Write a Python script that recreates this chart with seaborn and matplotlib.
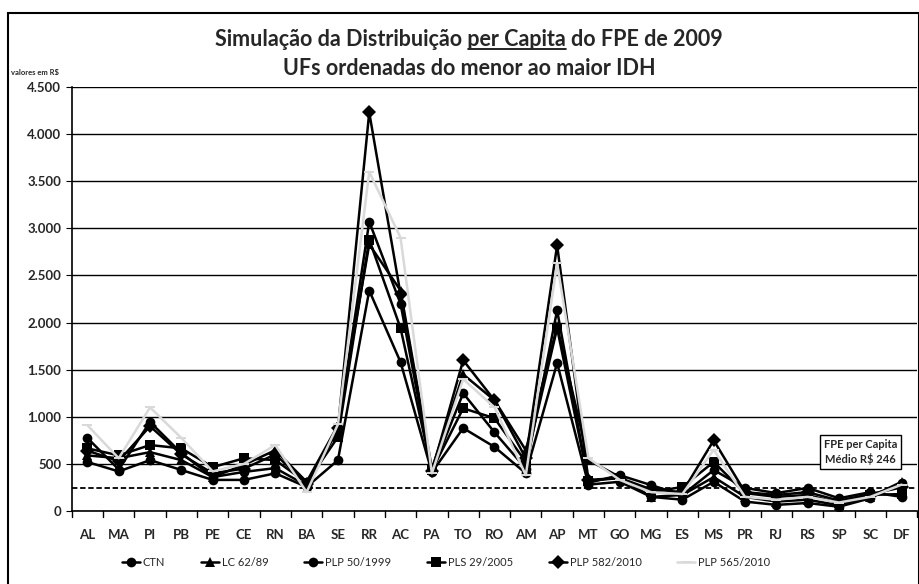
import pandas as pd
import matplotlib.pyplot as plt
import seaborn as sns
from matplotlib.ticker import FuncFormatter
from matplotlib.patches import Rectangle

ufs = ["AL", "MA", "PI", "PB", "PE", "CE", "RN", "BA", "SE", "RR", "AC", "PA", "TO", "RO",
       "AM", "AP", "MT", "GO", "MG", "ES", "MS", "PR", "RJ", "RS", "SP", "SC", "DF"]

ctn = [520, 420, 540, 435, 330, 330, 400, 255, 540, 2340, 1580, 410, 880, 680,
       400, 1570, 280, 310, 150, 120, 310, 100, 65, 85, 45, 135, 300]
lc_62_89 = [590, 560, 625, 540, 360, 490, 645, 310, 910, 2830, 2340, 450, 1450, 1175,
            645, 1960, 540, 360, 150, 170, 360, 150, 100, 120, 60, 150, 310]
plp_50_1999 = [775, 440, 945, 615, 360, 415, 455, 270, 860, 3070, 2200, 420, 1250, 835,
               450, 2130, 300, 380, 275, 170, 435, 245, 190, 245, 135, 200, 150]
pls_29_2005 = [665, 590, 700, 665, 465, 560, 540, 300, 785, 2880, 1940, 430, 1090, 985,
               520, 1940, 320, 350, 200, 255, 520, 190, 150, 170, 85, 170, 180]
plp_582_2010 = [640, 530, 900, 600, 400, 450, 600, 290, 880, 4230, 2300, 420, 1600, 1175,
                560, 2820, 330, 350, 230, 200, 750, 200, 170, 200, 110, 180, 250]
plp_565_2010 = [910, 560, 1100, 775, 420, 500, 700, 200, 920, 3600, 2900, 400, 1400, 1100,
                380, 2630, 560, 330, 200, 180, 650, 150, 120, 150, 90, 150, 280]

series_names = ["CTN", "LC 62/89", "PLP 50/1999", "PLS 29/2005", "PLP 582/2010", "PLP 565/2010"]
series_values = [ctn, lc_62_89, plp_50_1999, pls_29_2005, plp_582_2010, plp_565_2010]
fpe_medio = 246

rows = []
for name, vals in zip(series_names, series_values):
    for uf, v in zip(ufs, vals):
        rows.append({"UF": uf, "valor": v, "serie": name})
df = pd.DataFrame(rows)

sns.set_style("white")
plt.rcParams['font.family'] = ['Lato', 'DejaVu Sans']

fig = plt.figure(figsize=(9.2, 5.84), dpi=100)
ax = fig.add_axes([0.078, 0.125, 0.919, 0.726])

palette = {"CTN": "black", "LC 62/89": "black", "PLP 50/1999": "black",
           "PLS 29/2005": "black", "PLP 582/2010": "black", "PLP 565/2010": "#d9d9d9"}
dash_marker = [(-1, -0.25), (1, -0.25), (1, 0.25), (-1, 0.25)]
markers = {"CTN": "o", "LC 62/89": "^", "PLP 50/1999": "o",
           "PLS 29/2005": "s", "PLP 582/2010": "D", "PLP 565/2010": dash_marker}

sns.lineplot(data=df, x="UF", y="valor", hue="serie", style="serie",
             hue_order=series_names, style_order=series_names,
             palette=palette, markers=markers, dashes=False, sort=False,
             linewidth=1.8, markersize=7, markeredgewidth=0, ax=ax)

ax.axhline(fpe_medio, color="black", ls=(0, (3, 1.5)), lw=1.3, zorder=1)

ax.set_ylim(0, 4500)
ax.set_xlim(-0.5, len(ufs) - 0.5)
ax.set_yticks(range(0, 4501, 500))
ax.yaxis.set_major_formatter(FuncFormatter(lambda v, p: f"{int(v):,}".replace(",", ".")))
ax.grid(axis="y", color="black", lw=1.0)
ax.set_xlabel("")
ax.set_ylabel("")
for s in ["top", "right"]:
    ax.spines[s].set_visible(False)
for s in ["left", "bottom"]:
    ax.spines[s].set_color("black")
    ax.spines[s].set_linewidth(1.2)

ax.tick_params(axis="x", length=0, pad=13, labelsize=9.5)
ax.tick_params(axis="y", length=4, left=True, color="black", labelsize=9.5)
for lbl in ax.get_xticklabels() + ax.get_yticklabels():
    lbl.set_fontweight("bold")
# small tick marks at category borders
for i in range(len(ufs) + 1):
    ax.plot([i - 0.5, i - 0.5], [0, -60], color="black", lw=1, clip_on=False)

ax.text(24.7, 625, "FPE per Capita\nMédio R$ 246", ha="center", va="center",
        fontsize=8, fontweight="bold", linespacing=1.3,
        bbox=dict(boxstyle="square,pad=0.35", fc="white", ec="black", lw=1))

leg = ax.legend(loc="lower center", bbox_to_anchor=(0.485, 0.01), bbox_transform=fig.transFigure,
                ncol=6, frameon=False, fontsize=8, handlelength=1.6, columnspacing=3.2,
                handletextpad=0.3)

# titles, with "per Capita" underlined
title_kw = dict(fontsize=15.5, fontweight="bold")
prefix, mid, suffix = "Simulação da Distribuição ", "per Capita", " do FPE de 2009"
t1 = fig.text(0.51, 0.922, prefix + mid + suffix, ha="center", va="baseline", **title_kw)
fig.text(0.51, 0.872, "UFs ordenadas do menor ao maior IDH", ha="center", va="baseline", **title_kw)
fig.canvas.draw()
r = fig.canvas.get_renderer()

def width_of(s):
    tmp = fig.text(0, 0, s + "|", **title_kw)
    w = tmp.get_window_extent(r).width
    tmp.remove()
    tmp = fig.text(0, 0, "|", **title_kw)
    w -= tmp.get_window_extent(r).width
    tmp.remove()
    return w

bb = t1.get_window_extent(r)
x0 = bb.x0 + width_of(prefix)
x1 = x0 + width_of(mid)
ypix = 0.922 * fig.bbox.height - 3
fig.add_artist(plt.Line2D([x0 / fig.bbox.width, x1 / fig.bbox.width],
                          [ypix / fig.bbox.height] * 2, color="black", lw=1.2))

fig.text(0.012, 0.872, "valores em R$", fontsize=5.5, fontweight="bold")

fig.add_artist(Rectangle((0.009, -0.01), 0.99, 0.987, transform=fig.transFigure,
                         fill=False, ec="black", lw=1.5))

plt.savefig("out.png", dpi=100)
